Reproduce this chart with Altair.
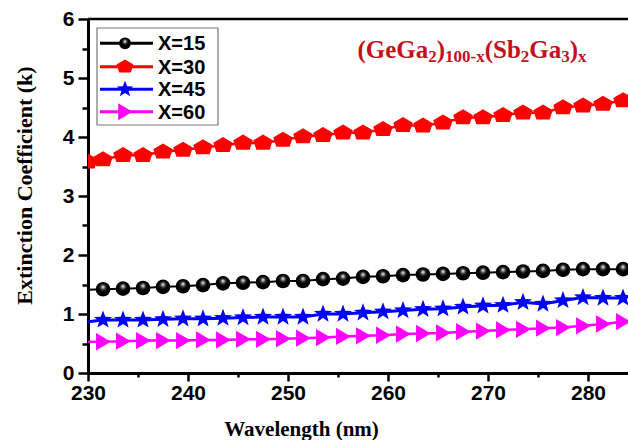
import altair as alt
import pandas as pd

# ---------------- data ----------------
wavelength = [230, 231.5, 233.5, 235.5, 237.5, 239.5, 241.5, 243.5, 245.5, 247.5,
              249.5, 251.5, 253.5, 255.5, 257.5, 259.5, 261.5, 263.5, 265.5, 267.5,
              269.5, 271.5, 273.5, 275.5, 277.5, 279.5, 281.5, 283.5]

k_x15 = [1.41, 1.42, 1.43, 1.44, 1.46, 1.47, 1.49, 1.52, 1.53, 1.54,
         1.56, 1.56, 1.59, 1.60, 1.63, 1.64, 1.66, 1.67, 1.68, 1.69,
         1.70, 1.71, 1.72, 1.73, 1.75, 1.76, 1.76, 1.76]
k_x30 = [3.58, 3.62, 3.69, 3.69, 3.75, 3.78, 3.82, 3.86, 3.90, 3.90,
         3.95, 4.01, 4.03, 4.07, 4.07, 4.13, 4.20, 4.19, 4.24, 4.33,
         4.33, 4.37, 4.41, 4.41, 4.50, 4.53, 4.56, 4.62]
k_x45 = [0.87, 0.90, 0.90, 0.90, 0.91, 0.92, 0.92, 0.93, 0.94, 0.95,
         0.95, 0.95, 1.00, 1.00, 1.02, 1.04, 1.06, 1.08, 1.09, 1.12,
         1.14, 1.15, 1.20, 1.17, 1.23, 1.28, 1.27, 1.27]
k_x60 = [0.53, 0.53, 0.54, 0.55, 0.55, 0.55, 0.56, 0.56, 0.57, 0.57,
         0.58, 0.59, 0.60, 0.62, 0.63, 0.64, 0.66, 0.67, 0.68, 0.70,
         0.71, 0.73, 0.74, 0.76, 0.77, 0.80, 0.83, 0.87]

series_names = ["X=15", "X=30", "X=45", "X=60"]
series_values = [k_x15, k_x30, k_x45, k_x60]
marker_start = [1, 0, 1, 1]

x_ticks = [230, 235, 240, 245, 250, 255, 260, 265, 270, 275, 280]
y_ticks = [0, 0.5, 1, 1.5, 2, 2.5, 3, 3.5, 4, 4.5, 5, 5.5, 6]

# ---------------- styles ----------------
colors = ["#000000", "#ff0000", "#0000ff", "#ff00ff"]
PENTAGON = "M0,-0.85L1,-0.26L0.68,0.69L-0.68,0.69L-1,-0.26Z"
STAR = ("M0,-1L0.247,-0.34L0.951,-0.309L0.4,0.13L0.588,0.809L0,0.42"
        "L-0.588,0.809L-0.4,0.13L-0.951,-0.309L-0.247,-0.34Z")
TRI = "M-0.8,-1L0.9,0L-0.8,1Z"
shapes = ["circle", PENTAGON, STAR, TRI]
sizes = [215, 380, 360, 300]
legend_sizes = [140, 290, 300, 290]
line_widths = [2, 2.5, 3, 2.5]

sphere_fill = {
    "gradient": "radial",
    "x1": 0.5, "y1": 0.33, "r1": 0.0,
    "x2": 0.5, "y2": 0.45, "r2": 0.6,
    "stops": [
        {"offset": 0.0, "color": "#ffffff"},
        {"offset": 0.12, "color": "#b0b0b0"},
        {"offset": 0.3, "color": "#303030"},
        {"offset": 0.5, "color": "#000000"},
        {"offset": 1.0, "color": "#000000"},
    ],
}

rows = []
for name, vals, start in zip(series_names, series_values, marker_start):
    for i, (w, v) in enumerate(zip(wavelength, vals)):
        rows.append({"wavelength": w, "k": v, "series": name, "marker": i >= start})
df = pd.DataFrame(rows)

W, H = 540, 354

x_axis = alt.Axis(
    values=x_ticks,
    labelExpr="datum.value % 10 == 0 ? format(datum.value, 'd') : ''",
    tickSize={"condition": {"test": "datum.value % 10 != 0", "value": 4}, "value": 8},
    tickWidth=2.5, tickColor="black",
    domainWidth=3, domainColor="black",
    labelFont="Liberation Sans", labelFontWeight="bold", labelFontSize=21,
    labelColor="black", labelPadding=1, grid=False, labelFlush=False,
    title="Wavelength (nm)", titleFont="Liberation Serif", titleFontWeight="bold",
    titleFontSize=21, titleColor="black", titleX=213, titleY=62,
    titleAlign="center", titleBaseline="alphabetic", titleAnchor="start",
)
y_axis = alt.Axis(
    values=y_ticks,
    labelExpr="datum.value % 1 == 0 ? format(datum.value, 'd') : ''",
    tickSize={"condition": {"test": "datum.value % 1 != 0", "value": 6}, "value": 10},
    tickWidth=2.5, tickColor="black",
    domainWidth=3, domainColor="black",
    labelFont="Liberation Sans", labelFontWeight="bold", labelFontSize=21,
    labelColor="black", labelPadding=4, grid=False, labelFlush=False,
    title="Extinction Coefficient (k)", titleFont="Liberation Serif",
    titleFontWeight="bold", titleFontSize=22, titleColor="black",
    titleX=-57, titleY=166, titleAlign="center", titleBaseline="alphabetic",
    titleAnchor="start",
)

x_enc = alt.X("wavelength:Q", scale=alt.Scale(domain=[230, 284], nice=False, zero=False), axis=x_axis)
y_enc = alt.Y("k:Q", scale=alt.Scale(domain=[0, 6], nice=False, zero=False), axis=y_axis)

layers = []
# top frame line
layers.append(
    alt.Chart(pd.DataFrame({"a": [0]})).mark_rule(color="black", strokeWidth=2.5)
    .encode(x=alt.value(0), x2=alt.value(W), y=alt.value(0))
)

for idx, name in enumerate(series_names):
    base = alt.Chart(df).transform_filter(alt.datum.series == name)
    layers.append(
        base.mark_line(color=colors[idx], strokeWidth=line_widths[idx], clip=True)
        .encode(x=x_enc, y=y_enc)
    )
    if idx == 0:
        pt = base.transform_filter(alt.datum.marker).mark_point(
            shape="circle", filled=True, fill=sphere_fill, size=sizes[idx],
            opacity=1, strokeWidth=0, clip=True)
    else:
        pt = base.transform_filter(alt.datum.marker).mark_point(
            shape=shapes[idx], filled=True, color=colors[idx], size=sizes[idx],
            opacity=1, strokeWidth=0, clip=True)
    layers.append(pt.encode(x=x_enc, y=y_enc))

# ---------------- legend box ----------------
one = pd.DataFrame({"a": [0]})
layers.append(
    alt.Chart(one).mark_rect(fill="white", stroke="#7a7a7a", strokeWidth=1.2)
    .encode(x=alt.value(9), x2=alt.value(130), y=alt.value(9), y2=alt.value(106))
)
legend_rows = [24.3, 47.7, 70.3, 92.7]
for idx, name in enumerate(series_names):
    ly = legend_rows[idx]
    layers.append(
        alt.Chart(one).mark_rule(color=colors[idx], strokeWidth=3)
        .encode(x=alt.value(12), x2=alt.value(65), y=alt.value(ly))
    )
    if idx == 0:
        m = alt.Chart(one).mark_point(shape="circle", filled=True, fill=sphere_fill,
                                      size=legend_sizes[idx], opacity=1, strokeWidth=0)
    else:
        m = alt.Chart(one).mark_point(shape=shapes[idx], filled=True, color=colors[idx],
                                      size=legend_sizes[idx], opacity=1, strokeWidth=0)
    layers.append(m.encode(x=alt.value(37), y=alt.value(ly)))
    layers.append(
        alt.Chart(one).mark_text(text=name, align="left", baseline="middle",
                                 font="Liberation Sans", fontWeight="bold",
                                 fontSize=20, color="black")
        .encode(x=alt.value(70), y=alt.value(ly + 1))
    )

# ---------------- formula annotation ----------------
pieces = [("(GeGa", False, 2.833), ("2", True, 0.5), (")", False, 0.333),
          ("100-x", True, 2.333), ("(Sb", False, 1.445), ("2", True, 0.5),
          ("Ga", False, 1.278), ("3", True, 0.5), (")", False, 0.333), ("x", True, 0.5)]
main_fs, sub_fs = 25, 17
total = sum(em * (sub_fs if sub else main_fs) for _, sub, em in pieces)
cx = 384 - total / 2
for txt, sub, em in pieces:
    fs = sub_fs if sub else main_fs
    layers.append(
        alt.Chart(one).mark_text(text=txt, align="left", baseline="alphabetic",
                                 font="Liberation Serif", fontWeight="bold",
                                 fontSize=fs, color="#c4101c")
        .encode(x=alt.value(cx), y=alt.value(42.5 if sub else 39))
    )
    cx += em * fs

chart = alt.layer(*layers).properties(
    width=W, height=H,
    autosize=alt.AutoSizeParams(type="none"),
    padding={"left": 88, "top": 19, "right": 0, "bottom": 67},
    background="white",
).configure_view(stroke=None)

chart.save("out.html", embed_options={"renderer": "svg", "actions": False})
